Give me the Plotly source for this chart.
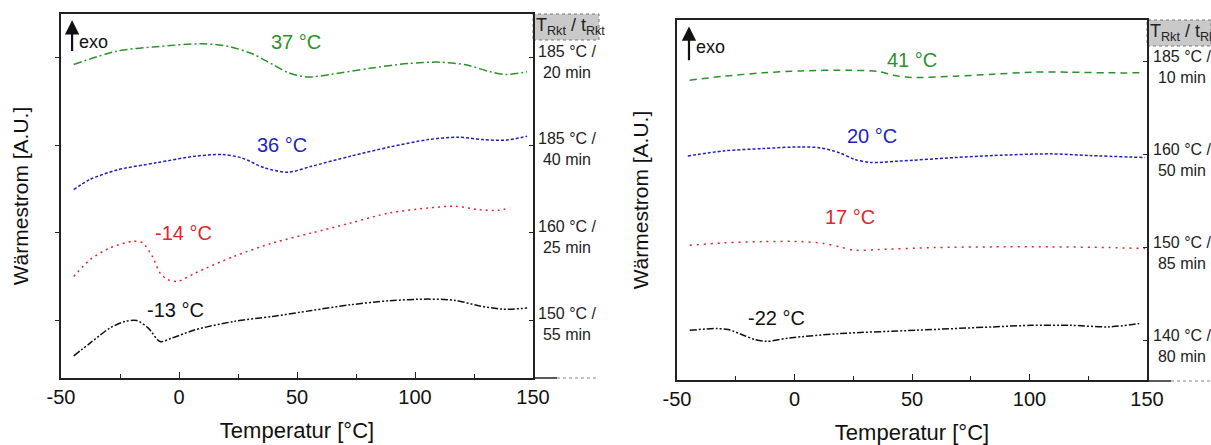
import plotly.graph_objects as go

# ---------------- data (left panel) ----------------
L_green_T = [-44.6, -26.1, -9.7, 10.1, 21.6, 31.5, 39.7, 46.3, 54.5, 64.4, 80.9, 97.3, 110.5, 122, 131.9, 138.5, 147.5]
L_green_v = [3.924, 4.077, 4.126, 4.16, 4.126, 4.04, 3.924, 3.83, 3.78, 3.81, 3.88, 3.935, 3.95, 3.917, 3.84, 3.81, 3.84]

L_blue_T = [-44.6, -37.7, -26.1, -9.7, 6.8, 18.3, 26.5, 36.4, 46.3, 56.2, 72.6, 89.1, 105.6, 118.7, 128.6, 138.5, 147.5]
L_blue_v = [2.494, 2.61, 2.72, 2.80, 2.876, 2.895, 2.857, 2.742, 2.693, 2.761, 2.876, 2.98, 3.066, 3.093, 3.066, 3.059, 3.104]

L_red_T = [-44.6, -37.7, -29.4, -19.5, -15.4, -11.3, -8.0, -4.7, -0.6, 6.8, 23.3, 39.7, 56.2, 72.6, 89.1, 105.6, 117.1, 127, 135.2, 140.1]
L_red_v = [1.503, 1.694, 1.827, 1.904, 1.885, 1.732, 1.541, 1.465, 1.446, 1.541, 1.732, 1.885, 1.999, 2.113, 2.228, 2.285, 2.304, 2.266, 2.258, 2.285]

L_black_T = [-44.6, -37.7, -29.4, -22.8, -17.9, -13.0, -8.0, -3.1, 6.8, 23.3, 39.7, 56.2, 72.6, 89.1, 105.6, 117.1, 127, 136.9, 147.5]
L_black_v = [0.596, 0.741, 0.912, 0.989, 1.0, 0.912, 0.76, 0.798, 0.893, 0.989, 1.046, 1.114, 1.179, 1.225, 1.244, 1.229, 1.168, 1.130, 1.141]

L_peak_labels = ["37 °C", "36 °C", "-14 °C", "-13 °C"]
L_peak_T = [49.6, 43.8, 1.9, -1.4]
L_peak_v = [4.18, 3.0, 2.0, 1.12]
L_cond = ["185 °C /<br>20 min", "185 °C /<br>40 min", "160 °C /<br>25 min", "150 °C /<br>55 min"]

# ---------------- data (right panel) ----------------
R_green_T = [-44.6, -29.9, -13.5, 2.8, 22.4, 35.5, 42.1, 50.2, 68.2, 84.6, 100.9, 117.3, 133.6, 148.4]
R_green_v = [3.803, 3.846, 3.882, 3.903, 3.910, 3.896, 3.857, 3.832, 3.846, 3.867, 3.889, 3.889, 3.882, 3.882]

R_blue_T = [-45.4, -29.9, -13.5, 2.8, 11, 19.2, 25.7, 32.3, 43.7, 68.2, 84.6, 109.1, 125.5, 149.2]
R_blue_v = [2.989, 3.043, 3.068, 3.086, 3.075, 3.022, 2.95, 2.918, 2.932, 2.971, 2.993, 3.011, 2.993, 2.971]

R_red_T = [-44.6, -29.9, -13.5, 2.8, 12.6, 19.2, 25.7, 35.5, 60.1, 84.6, 109.1, 133.6, 149.2]
R_red_v = [2.029, 2.054, 2.068, 2.068, 2.047, 2.011, 1.975, 1.982, 2.004, 2.011, 2.011, 2.004, 1.993]

R_black_T = [-44.6, -33.2, -28.2, -21.7, -16.8, -11.9, -2.1, 19.2, 51.9, 84.6, 100.9, 117.3, 133.6, 146.7]
R_black_v = [1.115, 1.133, 1.122, 1.061, 1.014, 0.996, 1.032, 1.079, 1.115, 1.151, 1.168, 1.168, 1.151, 1.186]

R_peak_labels = ["41 °C", "20 °C", "17 °C", "-22 °C"]
R_peak_T = [49.9, 33.1, 23.8, -7.8]
R_peak_v = [4.025, 3.2, 2.33, 1.25]
R_cond = ["185 °C /<br>10 min", "160 °C /<br>50 min", "150 °C /<br>85 min", "140 °C /<br>80 min"]

x_ticks = [-50, 0, 50, 100, 150]
x_tick_text = ["-50", "0", "50", "100", "150"]
y_ticks = [1, 2, 3, 4]

GREEN = "#2b922b"
BLUE = "#1f1fc0"
RED = "#e0262b"
BLACK = "#111111"
FONT = "Liberation Sans, Arial, sans-serif"

W, H = 1211, 445
def px_x(p):
    return p / W
def px_y(p):
    return 1 - p / H

# panel geometry (pixels)
L_box = (61, 533, 14, 378)
R_box = (677, 1147, 20, 380)

fig = go.Figure()

def add_line(T, v, color, dash, xa, ya):
    fig.add_trace(go.Scatter(x=T, y=v, mode="lines", line=dict(color=color, width=1.5, dash=dash, shape="spline", smoothing=0.8),
                             xaxis=xa, yaxis=ya, showlegend=False, hoverinfo="skip"))

DASHDOT = "8px,3px,2px,3px"
SHORTDASH = "3px,2px"
DOTS = "2px,4px"
DASHDOTDOT = "7px,2px,2px,2px,2px,2px"
DASHED = "7px,5px"

add_line(L_green_T, L_green_v, GREEN, DASHDOT, "x", "y")
add_line(L_blue_T, L_blue_v, BLUE, SHORTDASH, "x", "y")
add_line(L_red_T, L_red_v, RED, DOTS, "x", "y")
add_line(L_black_T, L_black_v, BLACK, DASHDOTDOT, "x", "y")

add_line(R_green_T, R_green_v, GREEN, DASHED, "x2", "y2")
add_line(R_blue_T, R_blue_v, BLUE, SHORTDASH, "x2", "y2")
add_line(R_red_T, R_red_v, RED, "2px,5px", "x2", "y2")
add_line(R_black_T, R_black_v, BLACK, DASHDOTDOT, "x2", "y2")

def xaxis_cfg(box):
    return dict(domain=[px_x(box[0]), px_x(box[1])], range=[-50, 150], tickvals=x_ticks, ticktext=x_tick_text,
                ticks="inside", ticklen=6, tickwidth=1.2, tickcolor="#222",
                minor=dict(dtick=25, tick0=-25, ticks="inside", ticklen=4, tickcolor="#222"),
                showline=True, linecolor="#222", linewidth=1.5, mirror=True,
                showgrid=False, zeroline=False, automargin=False,
                tickfont=dict(family=FONT, size=20, color="#111"),
                title=dict(text="Temperatur [°C]", font=dict(family=FONT, size=22, color="#111"), standoff=16))

ytitle = dict(text="Wärmestrom [A.U.]", font=dict(family=FONT, size=21, color="#111"), standoff=21)

fig.update_layout(
    width=W, height=H, margin=dict(l=0, r=0, t=0, b=0),
    paper_bgcolor="white", plot_bgcolor="white",
    showlegend=False,
    xaxis=dict(**xaxis_cfg(L_box), anchor="y"),
    xaxis2=dict(**xaxis_cfg(R_box), anchor="y2"),
    yaxis=dict(domain=[px_y(L_box[3]), px_y(L_box[2])], range=[0.343, 4.5], tickvals=y_ticks,
               ticks="outside", ticklen=4, tickcolor="#222", showticklabels=False,
               showline=True, linecolor="#222", linewidth=1.5, mirror=True,
               showgrid=False, zeroline=False, anchor="x", automargin=False, title=ytitle),
    yaxis3=dict(overlaying="y", side="right", anchor="x", range=[0.343, 4.5], tickvals=y_ticks,
                ticks="inside", ticklen=4, tickcolor="#222", showticklabels=False, automargin=False,
                showline=False, showgrid=False, zeroline=False),
    yaxis2=dict(domain=[px_y(R_box[3]), px_y(R_box[2])], range=[0.58, 4.45], tickvals=y_ticks,
                ticks="", showticklabels=False,
                showline=True, linecolor="#222", linewidth=1.5, mirror=True,
                showgrid=False, zeroline=False, anchor="x2", automargin=False, title=ytitle),
    yaxis4=dict(overlaying="y2", side="right", anchor="x2", range=[0.58, 4.45], tickvals=y_ticks,
                ticks="inside", ticklen=4, tickcolor="#222", showticklabels=False, automargin=False,
                showline=False, showgrid=False, zeroline=False),
)

# dummy traces to activate overlay axes
fig.add_trace(go.Scatter(x=[None], y=[None], xaxis="x", yaxis="y3", showlegend=False))
fig.add_trace(go.Scatter(x=[None], y=[None], xaxis="x2", yaxis="y4", showlegend=False))

annotations = []
colors = [GREEN, BLUE, RED, BLACK]
for lab, t, v, c in zip(L_peak_labels, L_peak_T, L_peak_v, colors):
    annotations.append(dict(x=t, y=v, xref="x", yref="y", text=lab, showarrow=False,
                            font=dict(family=FONT, size=20, color=c)))
for lab, t, v, c in zip(R_peak_labels, R_peak_T, R_peak_v, colors):
    annotations.append(dict(x=t, y=v, xref="x2", yref="y2", text=lab, showarrow=False,
                            font=dict(family=FONT, size=20, color=c)))

# condition labels at right of each panel
for lab, v in zip(L_cond, [4, 3, 2, 1]):
    annotations.append(dict(x=px_x(L_box[1] + 3), y=v, xref="paper", yref="y", text=lab, showarrow=False,
                            xanchor="left", yanchor="middle", align="center", yshift=-4,
                            font=dict(family=FONT, size=16, color="#222")))
for lab, v in zip(R_cond, [4, 3, 2, 1]):
    annotations.append(dict(x=px_x(R_box[1] + 4), y=v, xref="paper", yref="y2", text=lab, showarrow=False,
                            xanchor="left", yanchor="middle", align="center", yshift=-5,
                            font=dict(family=FONT, size=16, color="#222")))

# header boxes
hdr = "T<sub>Rkt</sub> / t<sub>Rkt</sub>"
annotations.append(dict(x=px_x(L_box[1] + 1), y=px_y(L_box[2] + 12), xref="paper", yref="paper", text=hdr,
                        showarrow=False, xanchor="left", yanchor="middle",
                        font=dict(family=FONT, size=18, color="#222")))
annotations.append(dict(x=px_x(R_box[1] + 1), y=px_y(R_box[2] + 12), xref="paper", yref="paper", text=hdr,
                        showarrow=False, xanchor="left", yanchor="middle",
                        font=dict(family=FONT, size=18, color="#222")))

# exo arrows
annotations.append(dict(x=-45.3, y=4.43, ax=-45.3, ay=4.06, xref="x", yref="y", axref="x", ayref="y",
                        showarrow=True, arrowhead=2, arrowsize=1.3, arrowwidth=2.2, arrowcolor="#111", text=""))
annotations.append(dict(x=-36.4, y=4.18, xref="x", yref="y", text="exo", showarrow=False,
                        font=dict(family=FONT, size=18, color="#111")))
annotations.append(dict(x=-44.9, y=4.38, ax=-44.9, ay=4.0, xref="x2", yref="y2", axref="x2", ayref="y2",
                        showarrow=True, arrowhead=2, arrowsize=1.3, arrowwidth=2.2, arrowcolor="#111", text=""))
annotations.append(dict(x=-35.6, y=4.16, xref="x2", yref="y2", text="exo", showarrow=False,
                        font=dict(family=FONT, size=18, color="#111")))

fig.update_layout(annotations=annotations)

shapes = []
for box, extend in [(L_box, 0), (R_box, 1)]:
    x1 = box[1]
    top = box[2]
    bot = box[3] + extend
    # header box
    shapes.append(dict(type="rect", xref="paper", yref="paper", x0=px_x(x1), x1=px_x(min(x1 + 66, W)),
                       y0=px_y(top + 26), y1=px_y(top), fillcolor="#c9c9c9",
                       line=dict(color="#777", width=1, dash="dot"), layer="below"))
    # bottom extension solid + dotted
    shapes.append(dict(type="line", xref="paper", yref="paper", x0=px_x(x1), x1=px_x(x1 + 24),
                       y0=px_y(bot), y1=px_y(bot), line=dict(color="#222", width=1.5)))
    shapes.append(dict(type="line", xref="paper", yref="paper", x0=px_x(x1 + 24), x1=px_x(min(x1 + 66, W)),
                       y0=px_y(bot), y1=px_y(bot), line=dict(color="#888", width=1, dash="dot")))
fig.update_layout(shapes=shapes)

fig.write_html("out.html", config={"displayModeBar": False},
               post_script="document.body.style.margin='0';document.body.style.overflow='hidden';")
